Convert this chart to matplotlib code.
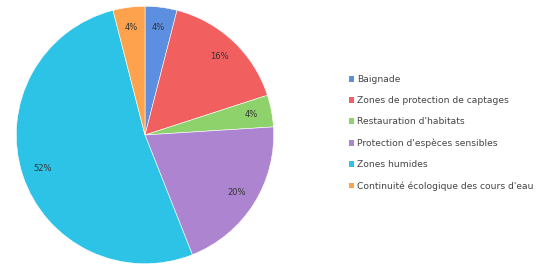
import matplotlib

matplotlib.use("Agg")
import matplotlib.pyplot as plt
from matplotlib.patches import Patch

categories = [
    "Baignade",
    "Zones de protection de captages",
    "Restauration d'habitats",
    "Protection d'espèces sensibles",
    "Zones humides",
    "Continuité écologique des cours d'eau",
]
shares = [4, 16, 4, 20, 52, 4]
colors = ["#5C8FE0", "#F25F5F", "#8ED26B", "#AC84CF", "#2CC3E6", "#FFA24D"]

W, H = 542, 267
fig = plt.figure(figsize=(W / 100, H / 100), dpi=100)
fig.patch.set_facecolor("white")

# pie centred around (145, 135) px with radius ~130 px
cx, cy, r = 145, 135, 130
ax = fig.add_axes([(cx - r) / W, (H - cy - r) / H, 2 * r / W, 2 * r / H])
wedges, texts, autotexts = ax.pie(
    shares, colors=colors, startangle=90, counterclock=False,
    autopct="%d%%", pctdistance=0.84,
    wedgeprops=dict(edgecolor="white", linewidth=0.4),
    textprops=dict(fontsize=6, color="#333333"),
)
ax.set_xlim(-1.01, 1.01)
ax.set_ylim(-1.01, 1.01)
ax.set_aspect("equal")

handles = [Patch(facecolor=c, edgecolor="none") for c in colors]
fig.legend(
    handles, categories, loc="upper left",
    bbox_to_anchor=(341 / W, 1 - 67 / H), frameon=False,
    fontsize=6.6, labelcolor="#444444",
    handlelength=0.55, handleheight=0.55, handletextpad=0.3,
    labelspacing=1.32,
)

fig.savefig("out.png", dpi=100)
